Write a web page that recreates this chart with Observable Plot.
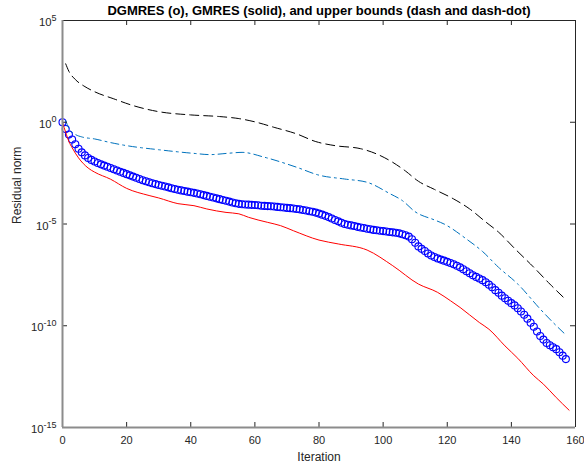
<!DOCTYPE html>
<html><head><meta charset="utf-8">
<script src="https://cdn.jsdelivr.net/npm/d3@7"></script>
<script src="https://cdn.jsdelivr.net/npm/@observablehq/plot@0.6"></script>
<style>body{margin:0;background:#fff}</style>
</head><body><div id="chart"></div>
<script>
const titleText = "DGMRES (o), GMRES (solid), and upper bounds (dash and dash-dot)";
const xLabel = "Iteration";
const yLabel = "Residual norm";
const xTicks = [0, 20, 40, 60, 80, 100, 120, 140, 160];
const yTickExps = [5, 0, -5, -10, -15];

// DGMRES residual norms (log10), one per iteration 0..157
const dgmresLog = [
  0.00,-0.33,-0.60,-0.85,-1.08,-1.30,-1.48,-1.63,-1.76,-1.85,
 -1.93,-2.00,-2.07,-2.13,-2.19,-2.25,-2.31,-2.37,-2.43,-2.49,
 -2.55,-2.61,-2.67,-2.73,-2.79,-2.85,-2.90,-2.95,-3.00,-3.04,
 -3.08,-3.12,-3.16,-3.20,-3.24,-3.28,-3.32,-3.35,-3.38,-3.41,
 -3.44,-3.47,-3.50,-3.54,-3.58,-3.62,-3.66,-3.70,-3.74,-3.78,
 -3.82,-3.86,-3.90,-3.94,-3.98,-4.01,-4.03,-4.04,-4.05,-4.06,
 -4.07,-4.08,-4.10,-4.11,-4.12,-4.13,-4.14,-4.16,-4.18,-4.19,
 -4.21,-4.22,-4.24,-4.26,-4.28,-4.31,-4.34,-4.37,-4.40,-4.44,
 -4.49,-4.54,-4.60,-4.66,-4.73,-4.80,-4.87,-4.94,-5.00,-5.04,
 -5.07,-5.10,-5.14,-5.17,-5.20,-5.23,-5.26,-5.29,-5.31,-5.33,
 -5.35,-5.37,-5.39,-5.41,-5.43,-5.46,-5.50,-5.55,-5.62,-5.75,
 -5.92,-6.10,-6.22,-6.33,-6.45,-6.55,-6.62,-6.69,-6.75,-6.80,
 -6.86,-6.92,-6.98,-7.05,-7.13,-7.22,-7.32,-7.42,-7.52,-7.60,
 -7.68,-7.76,-7.86,-7.98,-8.11,-8.25,-8.38,-8.52,-8.65,-8.77,
 -8.89,-9.00,-9.14,-9.30,-9.46,-9.65,-9.85,-10.05,-10.28,-10.50,
 -10.68,-10.85,-10.96,-11.06,-11.15,-11.30,-11.47,-11.64
];

// GMRES (solid red)
const gmresIter = [0,1,2,3,5,8,10,15,20,27,30,36,41,45,51,55,58,64,68,72,80,86,95,103,111,117,121,124,130,133,138,142,147,150,154,158];
const gmresLog  = [0,-0.5,-0.95,-1.25,-1.75,-2.25,-2.45,-2.8,-3.25,-3.6,-3.72,-4.0,-4.1,-4.26,-4.43,-4.5,-4.67,-4.92,-5.08,-5.33,-5.79,-5.98,-6.28,-7.05,-7.95,-8.36,-8.77,-9.1,-9.84,-10.17,-10.99,-11.6,-12.46,-12.87,-13.53,-14.15];

// Upper bound (dash, black)
const bound1Iter = [1,2,4,7,10,16,22,30,40,49,55,60,66,73,79,85,93,98,103,107,111,116,122,127,132,136,141,147,152,157];
const bound1Log  = [2.87,2.5,2.1,1.75,1.5,1.15,0.82,0.52,0.36,0.28,0.18,0.02,-0.25,-0.57,-0.95,-1.15,-1.3,-1.56,-1.97,-2.4,-2.9,-3.3,-3.77,-4.26,-4.9,-5.4,-6.2,-7.13,-7.95,-8.72];

// Upper bound (dash-dot, blue)
const bound2Iter = [1,2,4,6,10,15,20,30,41,46,52,56,63,73,80,88,95,102,106,110,116,119,126,131,136,142,149,153,157];
const bound2Log  = [0.08,-0.3,-0.6,-0.72,-0.82,-1.0,-1.15,-1.35,-1.53,-1.59,-1.52,-1.48,-1.72,-2.21,-2.6,-2.79,-2.95,-3.5,-3.85,-4.4,-4.8,-5.0,-5.74,-6.35,-7.13,-7.95,-9.18,-9.84,-10.45];

const dgmres = dgmresLog.map((e, i) => ({it: i, v: 10 ** e}));
const gmres = gmresIter.map((it, i) => ({it, v: 10 ** gmresLog[i]}));
const bound1 = bound1Iter.map((it, i) => ({it, v: 10 ** bound1Log[i]}));
const bound2 = bound2Iter.map((it, i) => ({it, v: 10 ** bound2Log[i]}));
const yTicks = yTickExps.map(e => 10 ** e);

const W = 584, H = 466, mL = 62, mR = 9, mT = 20, mB = 39;
const fw = W - mL - mR, fh = H - mT - mB, tk = 5;
const dark = "#262626";

const svg = Plot.plot({
  width: W, height: H,
  marginLeft: mL, marginRight: mR, marginTop: mT, marginBottom: mB,
  style: {fontFamily: "'Liberation Sans', Arial, sans-serif", fontSize: "11px", color: dark, background: "#fff"},
  x: {domain: [0, 160], axis: null},
  y: {type: "log", domain: [1e-15, 1e5], axis: null},
  marks: [
    Plot.dot(dgmres, {x: "it", y: "v", r: 3.5, stroke: "#0000ff", strokeWidth: 1.1, fill: "none"}),
    Plot.line(gmres, {x: "it", y: "v", stroke: "#ff0000", strokeWidth: 1, curve: "monotone-x"}),
    Plot.line(bound2, {x: "it", y: "v", stroke: "#0072BD", strokeWidth: 1, strokeDasharray: "8,4,2,4", curve: "monotone-x"}),
    Plot.line(bound1, {x: "it", y: "v", stroke: "#000000", strokeWidth: 1, strokeDasharray: "9,5", curve: "monotone-x"}),
    // ticks (inward, on all four sides)
    Plot.ruleX(xTicks, {x: d => d, insetTop: fh - tk, stroke: dark}),
    Plot.ruleX(xTicks, {x: d => d, insetBottom: fh - tk, stroke: dark}),
    Plot.ruleY(yTicks, {y: d => d, insetRight: fw - tk, stroke: dark}),
    Plot.ruleY(yTicks, {y: d => d, insetLeft: fw - tk, stroke: dark}),
    // box
    Plot.ruleY([1e5], {stroke: dark, strokeWidth: 1}),
    Plot.ruleX([160], {stroke: dark, strokeWidth: 1}),
    Plot.ruleX([0], {stroke: "#8c8c8c", strokeWidth: 2}),
    Plot.ruleY([1e-15], {stroke: "#8c8c8c", strokeWidth: 2}),
    // tick labels
    Plot.text(xTicks, {x: d => d, text: d => String(d), frameAnchor: "bottom", dy: 13, lineAnchor: "middle", fill: dark, fontSize: 11}),
    Plot.text(yTickExps, {y: d => 10 ** d, text: d => "10^" + d, frameAnchor: "left", dx: -6, dy: 2, textAnchor: "end", lineAnchor: "middle", fill: dark, fontSize: 11.3}),
    // axis labels and title
    Plot.text([xLabel], {text: d => d, frameAnchor: "bottom", dy: 30, lineAnchor: "middle", fill: dark, fontSize: 12}),
    Plot.text([yLabel], {text: d => d, frameAnchor: "left", dx: -45, rotate: -90, lineAnchor: "middle", fill: dark, fontSize: 12}),
    Plot.text([titleText], {text: d => d, frameAnchor: "top", dy: -10, lineAnchor: "middle", fill: "#000", fontSize: 13, fontWeight: "bold"})
  ]
});

d3.select(svg).selectAll("text").each(function() {
  const s = this.textContent;
  const m = /^10\^(-?\d+)$/.exec(s);
  if (!m) return;
  this.textContent = "";
  const t = d3.select(this);
  t.append("tspan").text("10");
  t.append("tspan").attr("dy", "-0.6em").attr("font-size", "9px").text(m[1]);
});

document.getElementById("chart").appendChild(svg);
</script>
</body></html>
